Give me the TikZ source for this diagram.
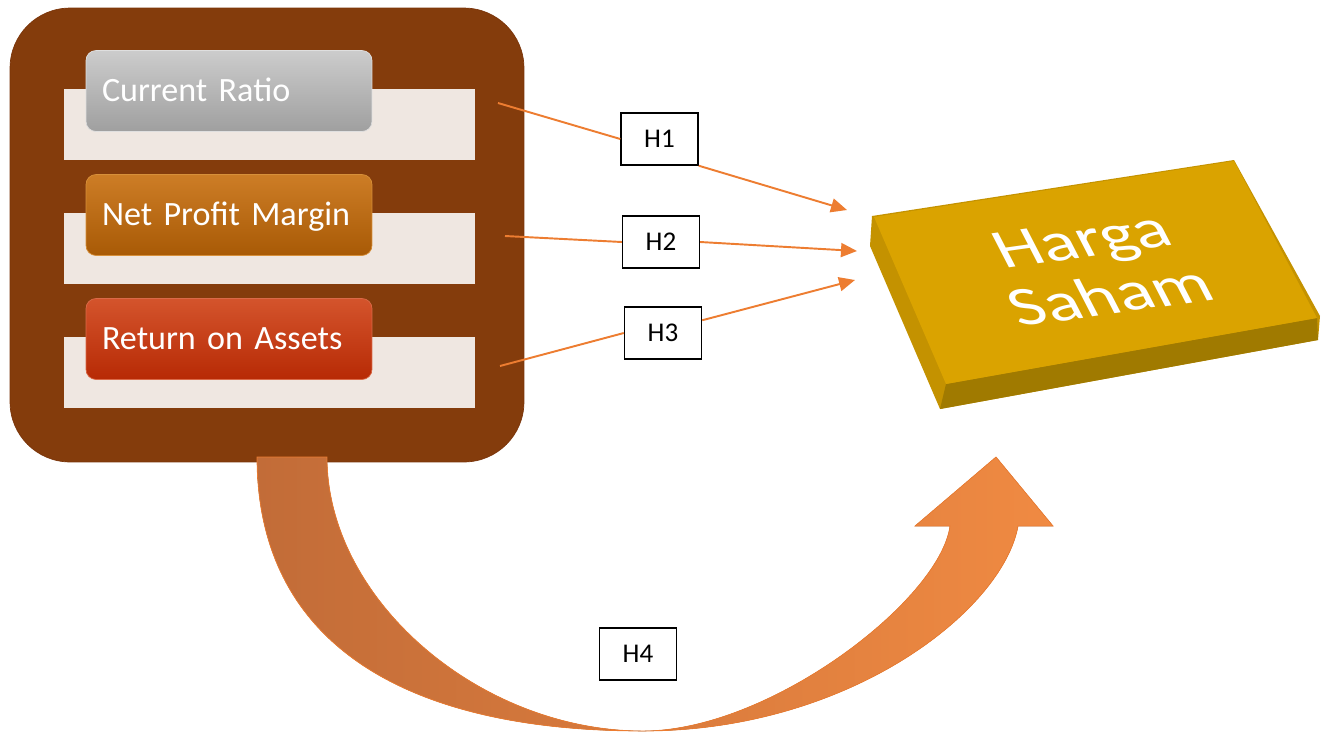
\documentclass[tikz,border=0pt]{standalone}
\usepackage{fontspec}
\setmainfont{Carlito}
\usetikzlibrary{arrows.meta, positioning}

\definecolor{panelbrown}{HTML}{843C0C}
\definecolor{panelrim}{HTML}{7A3409}
\definecolor{barcream}{HTML}{EFE7E1}
\definecolor{linkorange}{HTML}{ED7D31}
\definecolor{arrowleft}{HTML}{C26C38}
\definecolor{arrowmid}{HTML}{E8731F}
\definecolor{arrowright}{HTML}{F08A42}
\definecolor{slabtopcol}{HTML}{DAA300}
\definecolor{slabsidecol}{HTML}{C49200}
\definecolor{slabfrontcol}{HTML}{A07A00}

\begin{document}
\begin{tikzpicture}[
    x=0.02cm,
    y=-0.02cm,
    panel/.style={
        fill=panelbrown,
        draw=panelrim,
        rounded corners=1.2cm,
        minimum width=10.28cm,
        minimum height=9.08cm,
    },
    bar/.style={
        fill=barcream,
        minimum width=8.22cm,
        minimum height=1.42cm,
        inner sep=0pt,
    },
    button/.style={
        rounded corners=0.2cm,
        minimum width=5.72cm,
        minimum height=1.62cm,
        inner xsep=0.32cm,
        text width=5.08cm,
        align=left,
        text=white,
        text height=0.5cm,
        text depth=0.07cm,
        font=\fontsize{19.4}{22}\selectfont,
    },
    hypo/.style={
        draw,
        fill=white,
        line width=0.8pt,
        minimum width=1.54cm,
        minimum height=1.04cm,
        inner sep=0pt,
        font=\fontsize{15.4}{18}\selectfont,
    },
    link/.style={
        draw=linkorange,
        line width=1.1pt,
    },
    linkarrow/.style={
        link,
        -{Triangle[length=0.32cm, width=0.28cm]},
    },
    bigarrow/.style={
        left color=arrowleft,
        middle color=arrowmid,
        right color=arrowright,
        draw=linkorange,
        line width=0.4pt,
    },
    pricetext/.style={
        text=white,
        align=center,
        font=\fontsize{32}{34}\selectfont,
        rotate=8,
        xslant=-0.35,
        xscale=1.3,
    }
]
    \useasboundingbox (0,0) rectangle (1325,731);

    % Ratio panel
    \node[panel] (panel) at (267,235) {};
    \node[bar] (bar1) at (269.5,124) {};
    \node[bar] (bar2) at (269.5,248) {};
    \node[bar] (bar3) at (269.5,372) {};
    \node[button, top color=gray!40, bottom color=gray!75, draw=gray!25] (cr) at (229,91) {Current Ratio};
    \node[button, top color={rgb,255:red,205;green,125;blue,38}, bottom color={rgb,255:red,168;green,90;blue,6}, draw={rgb,255:red,215;green,144;blue,58}] (npm) at (229,215) {Net Profit Margin};
    \node[button, top color={rgb,255:red,212;green,84;blue,44}, bottom color={rgb,255:red,183;green,42;blue,5}, draw={rgb,255:red,218;green,106;blue,72}] (roa) at (229,339) {Return on Assets};

    % Curved arrow (H4)
    \fill[bigarrow] (257,457) .. controls (257,640) and (400,731) .. (643,731)
        .. controls (850,731) and (1003,610) .. (1018,526)
        -- (1053,526) -- (996,457) -- (915,526) -- (950,526)
        .. controls (940,600) and (770,731) .. (643,731)
        .. controls (480,731) and (327,600) .. (327,457) -- cycle;

    % Harga Saham slab
    \fill[slabsidecol] (872,216) -- (1234,160) -- (1320,316) -- (1318,340) -- (940,409) -- (870,246) -- cycle;
    \fill[slabfrontcol] (946,384) -- (1317,318) -- (1318,340) -- (940,409) -- cycle;
    \fill[slabtopcol] (874,217) -- (1234,161) -- (1317,318) -- (946,384) -- cycle;
    \node[pricetext] (price) at (1096,268) {Harga\\Saham};

    % Hypotheses
    \coordinate (s1) at (498,103);
    \coordinate (s2) at (505,236);
    \coordinate (s3) at (500,366);
    \coordinate (t1) at (847,210);
    \coordinate (t2) at (857,251);
    \coordinate (t3) at (855,280);
    \node[hypo] (h1) at (659.5,139) {H1};
    \node[hypo] (h2) at (661,242) {H2};
    \node[hypo] (h3) at (663,333) {H3};
    \node[hypo] (h4) at (638,654) {H4};

    \draw[link] (s1) -- (h1.west);
    \draw[linkarrow] (h1.south east) -- (t1);
    \draw[link] (s2) -- (h2.west);
    \draw[linkarrow] (h2.east) -- (t2);
    \draw[link] (s3) -- (h3.west);
    \draw[linkarrow] (h3.18) -- (t3);
\end{tikzpicture}
\end{document}
